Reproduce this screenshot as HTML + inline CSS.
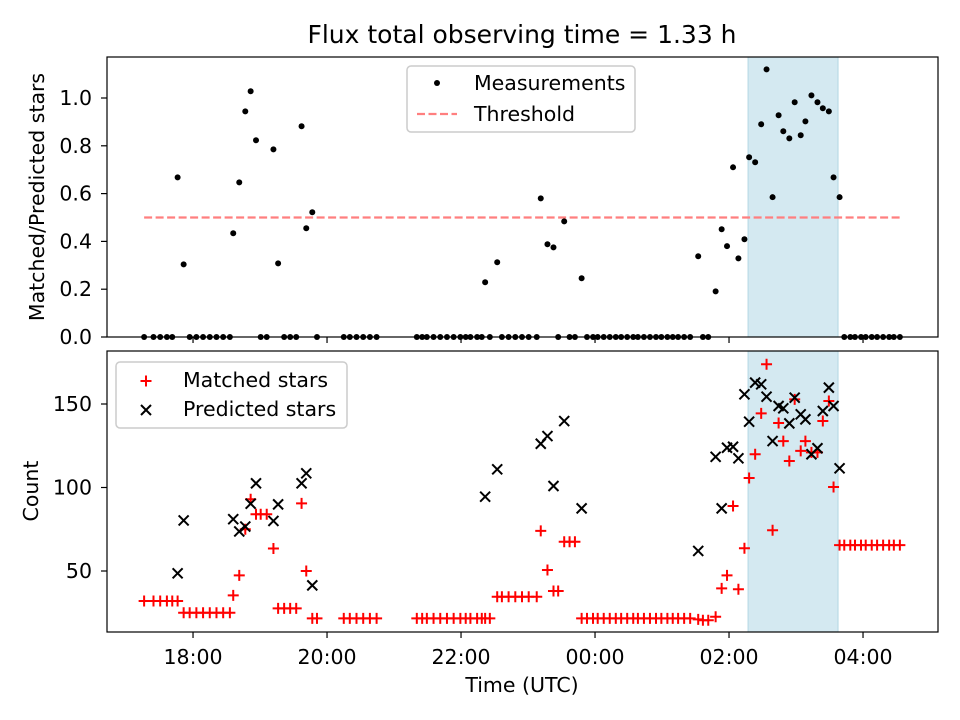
<!DOCTYPE html>
<html><head><meta charset="utf-8"><style>
body{margin:0;background:#fff}
svg{display:block;font-family:"DejaVu Sans","Liberation Sans",sans-serif}
</style></head><body>
<svg id="chart" width="960" height="720" viewBox="0 0 960 720" xmlns="http://www.w3.org/2000/svg">
<rect width="960" height="720" fill="#fff"/>
<text x="522" y="43" font-size="25" text-anchor="middle" fill="#000">Flux total observing time = 1.33 h</text>
<g id="topg"></g><g id="botg"></g>
</svg>
<script>
// observation times in hours (24+ = after midnight)
const times=[17.27,17.41,17.51,17.61,17.69,17.77,17.86,17.95,18.05,18.15,18.25,18.35,18.45,18.55,18.60,18.69,18.78,18.86,18.94,19.01,19.10,19.20,19.27,19.36,19.45,19.54,19.62,19.69,19.78,19.85,20.25,20.34,20.44,20.54,20.64,20.74,21.34,21.42,21.49,21.59,21.69,21.79,21.89,21.99,22.07,22.14,22.24,22.31,22.36,22.43,22.54,22.61,22.71,22.81,22.91,23.01,23.13,23.19,23.29,23.38,23.45,23.54,23.62,23.70,23.80,23.88,23.97,24.04,24.13,24.22,24.31,24.39,24.48,24.57,24.64,24.73,24.82,24.91,24.99,25.08,25.16,25.24,25.33,25.42,25.54,25.61,25.69,25.80,25.89,25.97,26.06,26.14,26.23,26.30,26.39,26.48,26.56,26.65,26.74,26.81,26.90,26.98,27.07,27.14,27.23,27.32,27.40,27.49,27.56,27.65,27.72,27.81,27.88,27.97,28.04,28.13,28.21,28.30,28.39,28.46,28.55];
const ratios=[0,0,0,0,0,0.668,0.304,0,0,0,0,0,0,0,0.434,0.647,0.944,1.028,0.823,0,0,0.785,0.308,0,0,0,0.882,0.455,0.522,0,0,0,0,0,0,0,0,0,0,0,0,0,0,0,0,0,0,0,0.229,0,0.313,0,0,0,0,0,0,0.580,0.388,0.375,0,0.484,0,0,0.246,0,0,0,0,0,0,0,0,0,0,0,0,0,0,0,0,0,0,0,0.338,0,0,0.191,0.451,0.380,0.710,0.329,0.409,0.752,0.731,0.890,1.120,0.585,0.928,0.861,0.831,0.982,0.844,0.902,1.011,0.982,0.957,0.944,0.668,0.585,0,0,0,0,0,0,0,0,0,0,0];
const matched=[32,32,32,32,32,32,25,25,25,25,25,25,25,25,35.4,47.4,75,93,84,84,84,63.5,27.6,27.6,27.6,27.6,90.5,50,21.6,21.6,21.6,21.6,21.6,21.6,21.6,21.6,21.6,21.6,21.6,21.6,21.6,21.6,21.6,21.6,21.6,21.6,21.6,21.6,21.6,21.6,34.6,34.6,34.6,34.6,34.6,34.6,34.6,74,50.6,38,38,67.5,67.5,67.5,21.6,21.6,21.6,21.6,21.6,21.6,21.6,21.6,21.6,21.6,21.6,21.6,21.6,21.6,21.6,21.6,21.6,21.6,21.6,21.6,21,20.5,20.5,22.6,39.6,47.4,88.9,39.1,63.6,105.7,119.9,144.4,173.8,74.4,138.6,127.8,115.9,152.8,121.9,127.8,121,121,139.8,151.8,100.3,65.5,65.5,65.5,65.5,65.5,65.5,65.5,65.5,65.5,65.5,65.5,65.5];
const predTimes=[17.77,17.86,18.60,18.69,18.78,18.86,18.94,19.20,19.27,19.62,19.69,19.78,22.36,22.54,23.19,23.29,23.38,23.54,23.80,25.54,25.80,25.89,25.97,26.06,26.14,26.23,26.30,26.39,26.48,26.56,26.65,26.74,26.81,26.90,26.98,27.07,27.14,27.23,27.32,27.40,27.49,27.56,27.65];
const predicted=[48.6,80.3,81,73.7,76.6,90.3,102.5,80,89.9,102.5,108.5,41.4,94.5,110.9,126.2,130.8,100.9,139.8,87.5,62,118.4,87.5,123.8,124.4,117.5,155.8,139.4,162.8,161.8,154.4,127.8,148.8,147.4,138.4,153.8,143.8,140.8,119.9,123.5,145.8,159.8,148.8,111.5];
const shadeSpan=[26.284,27.627];
const threshold=0.5;
const xTicks=[18,20,22,24,26,28];
const xTickLabels=["18:00","20:00","22:00","00:00","02:00","04:00"];
const topYTicks=[0,0.2,0.4,0.6,0.8,1.0];
const botYTicks=[50,100,150];

const NS="http://www.w3.org/2000/svg";
const L=107,R=938,T1=57,B1=337,T2=351,B2=632;
const xMin=16.716,xMax=29.119;
const X=h=>L+(h-xMin)/(xMax-xMin)*(R-L);
const Y1=v=>B1-v*239;
const Y2=v=>404-(v-150)*1.67;
function mk(p,tag,a){const e=document.createElementNS(NS,tag);for(const k in a)e.setAttribute(k,a[k]);p.appendChild(e);return e;}
const gTop=document.getElementById('topg'),gBot=document.getElementById('botg');

function axesFrame(g,T,B,name){
  const r=mk(g,'rect',{x:L,y:T,width:R-L,height:B-T,fill:'none',stroke:'#000','stroke-width':1.2});
  
  
}
function shade(g,T,B,name){
  const r=mk(g,'rect',{x:X(shadeSpan[0]),y:T,width:X(shadeSpan[1])-X(shadeSpan[0]),height:B-T,fill:'#d4e9f1',stroke:'#b3d7e4','stroke-width':1});
  
  
}
shade(gTop,T1,B1,'top-highlight-band');
shade(gBot,T2,B2,'bottom-highlight-band');

const tl=mk(gTop,'line',{x1:X(times[0]),x2:X(times[times.length-1]),y1:Y1(threshold),y2:Y1(threshold),stroke:'#ff7f7f','stroke-width':2.2,'stroke-dasharray':'8,3.5'});



times.forEach((t,i)=>{
  const c=mk(gTop,'circle',{cx:X(t),cy:Y1(ratios[i]),r:3,fill:'#000'});
  
  
});
times.forEach((t,i)=>{
  const x=X(t),y=Y2(matched[i]);
  const p=mk(gBot,'path',{d:`M${x-5.5},${y}H${x+5.5}M${x},${y-5.5}V${y+5.5}`,stroke:'#f00','stroke-width':2,fill:'none'});
  
  
});
predTimes.forEach((t,i)=>{
  const x=X(t),y=Y2(predicted[i]);
  const p=mk(gBot,'path',{d:`M${x-5},${y-5}L${x+5},${y+5}M${x-5},${y+5}L${x+5},${y-5}`,stroke:'#000','stroke-width':2,fill:'none'});
  
  
});
axesFrame(gTop,T1,B1,'top-axes-frame');
axesFrame(gBot,T2,B2,'bottom-axes-frame');

xTicks.forEach((h,i)=>{
  const x=X(h);
  mk(gTop,'line',{x1:x,x2:x,y1:B1,y2:B1+6,stroke:'#000','stroke-width':1.2});
  mk(gBot,'line',{x1:x,x2:x,y1:B2,y2:B2+6,stroke:'#000','stroke-width':1.2});
  const t=mk(gBot,'text',{x:x,y:664,'font-size':20.5,'text-anchor':'middle'});
  t.textContent=xTickLabels[i];
  
  
});
topYTicks.forEach(v=>{
  const y=Y1(v);
  mk(gTop,'line',{x1:L-6,x2:L,y1:y,y2:y,stroke:'#000','stroke-width':1.2});
  const t=mk(gTop,'text',{x:L-15,y:y+7,'font-size':20.5,'text-anchor':'end'});
  t.textContent=v.toFixed(1);
  
  
});
botYTicks.forEach(v=>{
  const y=Y2(v);
  mk(gBot,'line',{x1:L-6,x2:L,y1:y,y2:y,stroke:'#000','stroke-width':1.2});
  const t=mk(gBot,'text',{x:L-15,y:y+7,'font-size':20.5,'text-anchor':'end'});
  t.textContent=String(v);
  
  
});
</script>
<svg style="position:absolute;left:0;top:0" width="960" height="720" xmlns="http://www.w3.org/2000/svg" font-family="DejaVu Sans, Liberation Sans, sans-serif">
<text transform="translate(44,197) rotate(-90)" font-size="20.5" text-anchor="middle">Matched/Predicted stars</text>
<text transform="translate(38,491) rotate(-90)" font-size="20.5" text-anchor="middle">Count</text>
<text x="522" y="692" font-size="20.5" text-anchor="middle">Time (UTC)</text>
<g>
<rect x="407" y="66" width="228" height="66" rx="4" fill="#fff" fill-opacity="0.8" stroke="#ccc" stroke-width="1.5"/>
<circle cx="437" cy="83" r="3" fill="#000"/>
<text x="474" y="90" font-size="20.5">Measurements</text>
<line x1="417" x2="457" y1="114" y2="114" stroke="#ff7f7f" stroke-width="2.2" stroke-dasharray="8,3.5"/>
<text x="474" y="121" font-size="20.5">Threshold</text>
</g>
<g>
<rect x="116" y="362" width="231" height="66" rx="4" fill="#fff" fill-opacity="0.8" stroke="#ccc" stroke-width="1.5"/>
<path d="M140.5,381H151.5M146,375.5V386.5" stroke="#f00" stroke-width="2"/>
<text x="183" y="387" font-size="20.5">Matched stars</text>
<path d="M141,405L151,415M141,415L151,405" stroke="#000" stroke-width="2"/>
<text x="183" y="416" font-size="20.5">Predicted stars</text>
</g>
</svg>
</body></html>
